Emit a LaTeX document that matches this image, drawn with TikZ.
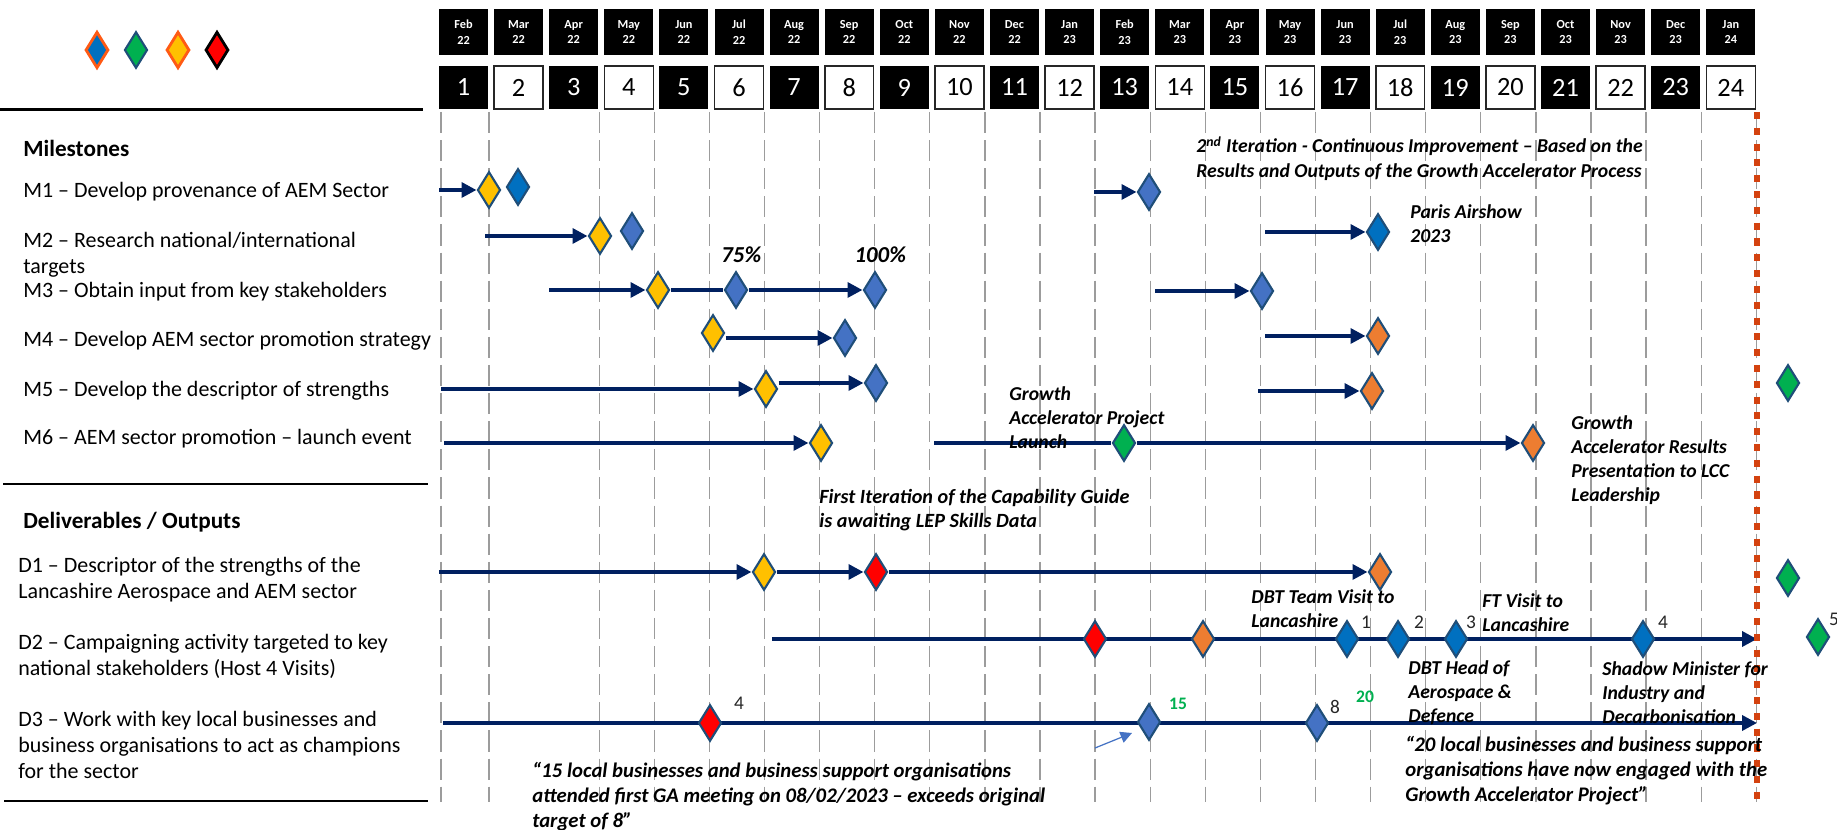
\documentclass[tikz,border=0pt]{standalone}
\usepackage{fontspec}
\setmainfont{Carlito}
\usetikzlibrary{arrows.meta,positioning,shapes.geometric}
\definecolor{navy}{HTML}{002060}
\definecolor{gold}{HTML}{FFC000}
\definecolor{deepblue}{HTML}{0070C0}
\definecolor{softblue}{HTML}{4472C4}
\definecolor{amber}{HTML}{ED7D31}
\definecolor{leaf}{HTML}{00B050}
\definecolor{signal}{HTML}{FF0000}
\definecolor{rim}{HTML}{1F4E79}
\definecolor{flame}{HTML}{FF5A14}
\definecolor{cutoff}{HTML}{D4420F}
\definecolor{grid}{HTML}{9C9C9C}
\definecolor{numgray}{HTML}{262626}

\begin{document}
\begin{tikzpicture}[x=0.02cm,y=-0.02cm,
 ms/.style={diamond,draw=rim,line width=1.2pt,inner sep=0pt,minimum width=.46cm,minimum height=.73cm},
 arr/.style={draw=navy,line width=2pt,-{Triangle[length=8.5pt,width=8.5pt]}},
 bar/.style={draw=navy,line width=2pt},
 monthbox/.style={fill=black,text=white,align=center,minimum width=.98cm,minimum height=.92cm,inner sep=0pt,font=\bfseries\fontsize{7}{9}\selectfont},
 numbox/.style={minimum width=.98cm,minimum height=.86cm,inner sep=0pt,font=\fontsize{15}{15}\selectfont},
 rowtext/.style={anchor=west,align=left,inner sep=0pt,font=\fontsize{12.5}{14.8}\selectfont},
 headtext/.style={anchor=west,inner sep=0pt,font=\bfseries\fontsize{13.2}{15}\selectfont},
 callout/.style={anchor=north west,align=left,inner sep=0pt,font=\bfseries\itshape\fontsize{11.2}{13.7}\selectfont},
 quote/.style={callout,font=\bfseries\itshape\fontsize{11.8}{14.3}\selectfont},
 tally/.style={inner sep=0pt,text=numgray,font=\fontsize{11}{11}\selectfont},
 greentally/.style={inner sep=0pt,text=leaf,font=\bfseries\fontsize{10}{10}\selectfont},
 gridline/.style={draw=grid,line width=.7pt,dash pattern=on 12pt off 4pt},
 sectionline/.style={line width=1.7pt}]
 \fill[white] (0,0) rectangle (1837,830);
 \useasboundingbox (0,0) rectangle (1837,830);

 % month header
 \foreach \mo/\yr [count=\i] in {Feb/22,Mar/22,Apr/22,May/22,Jun/22,Jul/22,Aug/22,Sep/22,Oct/22,Nov/22,Dec/22,Jan/23,Feb/23,Mar/23,Apr/23,May/23,Jun/23,Jul/23,Aug/23,Sep/23,Oct/23,Nov/23,Dec/23,Jan/24} {
  \node[monthbox] (mon\i) at ({463.5+55.1*(\i-1)},32) {\mo\\\yr};
  \ifodd\i
   \node[numbox,fill=black,text=white] (no\i) at ({463.5+55.1*(\i-1)},87.5) {\i};
  \else
   \node[numbox,draw=numgray,line width=.9pt] (no\i) at ({463.5+55.1*(\i-1)},87.5) {\i};
  \fi
 }
 \draw[gridline] (441,112) -- (441,802);
 \foreach \k in {0,2,3,...,23} \draw[gridline] ({489+55.1*\k},112) -- ({489+55.1*\k},802);

 % legend
 \node[ms,draw=flame,line width=1.6pt,fill=deepblue] (leg1) at (97,50) {};
 \node[ms,fill=leaf] (leg2) at (136,50) {};
 \node[ms,draw=flame,line width=1.6pt,fill=gold] (leg3) at (178,50) {};
 \node[ms,draw=black,line width=1.6pt,fill=signal] (leg4) at (217,50) {};

 % left column
 \draw[sectionline] (0,110) -- (423,110);
 \node[headtext] (mhead) at (23,148) {Milestones};
 \node[rowtext] (m1txt) at (23,192) {M1 – Develop provenance of AEM Sector};
 \node[rowtext] (m2txt) at (23,255) {M2 – Research national/international\\targets};
 \node[rowtext] (m3txt) at (23,292) {M3 – Obtain input from key stakeholders};
 \node[rowtext] (m4txt) at (23,341) {M4 – Develop AEM sector promotion strategy};
 \node[rowtext] (m5txt) at (23,391) {M5 – Develop the descriptor of strengths};
 \node[rowtext] (m6txt) at (23,439) {M6 – AEM sector promotion – launch event};
 \draw[sectionline] (3,484) -- (428,484);
 \node[headtext] (dhead) at (23,522) {Deliverables / Outputs};
 \node[rowtext] (d1txt) at (18,580) {D1 – Descriptor of the strengths of the\\Lancashire Aerospace and AEM sector};
 \node[rowtext] (d2txt) at (18,656) {D2 – Campaigning activity targeted to key\\national stakeholders (Host 4 Visits)};
 \node[rowtext] (d3txt) at (18,745) {D3 – Work with key local businesses and\\business organisations to act as champions\\for the sector};
 \draw[sectionline] (4,801) -- (428,801);

 % milestone rows
 \node[ms,fill=gold] (m1a) at (489,190) {};
 \node[ms,fill=deepblue] (m1b) at (518,187) {};
 \node[ms,fill=softblue] (m1c) at (1149,192) {};
 \coordinate (m1s) at (439,190);
 \coordinate (m1t) at (1094,192);
 \draw[arr] (m1s) -- (m1a);
 \draw[arr] (m1t) -- (m1c);

 \node[ms,fill=gold] (m2a) at (600,236) {};
 \node[ms,fill=softblue] (m2b) at (632,231) {};
 \node[ms,fill=deepblue] (m2c) at (1378,232) {};
 \coordinate (m2s) at (485,236);
 \coordinate (m2t) at (1265,232);
 \draw[arr] (m2s) -- (m2a);
 \draw[arr] (m2t) -- (m2c);

 \node[ms,fill=gold] (m3a) at (658,290) {};
 \node[ms,fill=softblue] (m3b) at (736,290) {};
 \node[ms,fill=softblue] (m3c) at (875,290) {};
 \node[ms,fill=softblue] (m3d) at (1262,291) {};
 \coordinate (m3s) at (549,290);
 \coordinate (m3t) at (1155,291);
 \draw[arr] (m3s) -- (m3a);
 \draw[bar] (m3a) -- (m3b);
 \draw[arr] (m3b) -- (m3c);
 \draw[arr] (m3t) -- (m3d);
 \node[font=\bfseries\itshape\fontsize{13}{13}\selectfont,above=1pt of m3b,xshift=3pt] (pct75) {75\%};
 \node[font=\bfseries\itshape\fontsize{13}{13}\selectfont,above=1pt of m3c,xshift=3pt] (pct100) {100\%};

 \node[ms,fill=gold] (m4a) at (713,333) {};
 \node[ms,fill=softblue] (m4b) at (845,338) {};
 \node[ms,fill=amber] (m4c) at (1378,336) {};
 \coordinate (m4t) at (1265,336);
 \draw[arr] (m4a.east |- m4b) -- (m4b);
 \draw[arr] (m4t) -- (m4c);

 \node[ms,fill=gold] (m5a) at (766,389) {};
 \node[ms,fill=softblue] (m5b) at (876,383) {};
 \node[ms,fill=amber] (m5c) at (1372,391) {};
 \node[ms,fill=leaf] (m5d) at (1788,383) {};
 \coordinate (m5s) at (441,389);
 \coordinate (m5t) at (1258,391);
 \draw[arr] (m5s) -- (m5a);
 \draw[arr] (m5a.east |- m5b) -- (m5b);
 \draw[arr] (m5t) -- (m5c);

 \coordinate (m6s) at (444,443);
 \coordinate (m6t) at (934,443);
 \node[ms,fill=gold] (m6a) at (821,443) {};
 \node[ms,fill=leaf] (m6b) at (1124,443) {};
 \node[ms,fill=amber] (m6c) at (1533,443) {};
 \draw[arr] (m6s) -- (m6a);
 \draw[bar] (m6t) -- (m6b);
 \draw[arr] (m6b) -- (m6c);

 % deliverable rows
 \coordinate (d1s) at (439,572);
 \node[ms,fill=gold] (d1a) at (764,572) {};
 \node[ms,fill=signal] (d1b) at (876,572) {};
 \node[ms,fill=amber] (d1c) at (1380,572) {};
 \node[ms,fill=leaf] (d1d) at (1788,578) {};
 \draw[arr] (d1s) -- (d1a);
 \draw[arr] (d1a) -- (d1b);
 \draw[arr] (d1b) -- (d1c);

 \coordinate (d2s) at (772,639);
 \coordinate (d2t) at (1757,639);
 \draw[arr] (d2s) -- (d2t);
 \node[ms,fill=signal] (d2a) at (1095,639) {};
 \node[ms,fill=amber] (d2b) at (1203,639) {};
 \node[ms,fill=deepblue] (d2c) at (1347,639) {};
 \node[ms,fill=deepblue] (d2d) at (1398,639) {};
 \node[ms,fill=deepblue] (d2e) at (1456,639) {};
 \node[ms,fill=deepblue] (d2f) at (1643,639) {};
 \node[ms,fill=leaf] (d2g) at (1818,637) {};

 \coordinate (d3s) at (443,723);
 \coordinate (d3t) at (1757,723);
 \draw[arr] (d3s) -- (d3t);
 \node[ms,fill=signal] (d3a) at (710,723) {};
 \node[ms,fill=softblue] (d3b) at (1149,722) {};
 \node[ms,fill=softblue] (d3c) at (1317,723) {};
 \coordinate (d3p) at (1095,748);
 \draw[softblue,line width=.7pt,-{Triangle[length=6.5pt,width=6.5pt]}] (d3p) -- (1132,733);

 % counts
 \node[tally] (c4a) at (739,703) {4};
 \node[tally] (c1) at (1366,622) {1};
 \node[tally] (c2) at (1419,622) {2};
 \node[tally] (c3) at (1471,622) {3};
 \node[tally] (c4b) at (1663,622) {4};
 \node[tally] (c5) at (1834,619) {5};
 \node[tally] (c8) at (1335,707) {8};
 \node[greentally] (c15) at (1178,704) {15};
 \node[greentally] (c20) at (1365,697) {20};

 % end of period
 \draw[cutoff,line width=3.8pt,dash pattern=on 4pt off 5pt] (1757,112) -- (1757,802);

 % callouts
 \node[callout] (iter2) at (1196,136) {2\textsuperscript{nd} Iteration - Continuous Improvement – Based on the\\Results and Outputs of the Growth Accelerator Process};
 \node[callout] (paris) at (1410,204) {Paris Airshow\\2023};
 \node[callout] (launch) at (1009,386) {Growth\\Accelerator Project\\Launch};
 \node[callout] (results) at (1571,415) {Growth\\Accelerator Results\\Presentation to LCC\\Leadership};
 \node[callout,font=\bfseries\itshape\fontsize{11.5}{13.7}\selectfont] (guide) at (819,489) {First Iteration of the  Capability Guide\\is awaiting LEP Skills Data};
 \node[callout] (dbtteam) at (1251,589) {DBT Team Visit to\\Lancashire};
 \node[callout] (ftvisit) at (1482,593) {FT Visit to\\Lancashire};
 \node[callout] (dbthead) at (1408,660) {DBT Head of\\Aerospace \&\\Defence};
 \node[callout] (shadow) at (1602,661) {Shadow Minister for\\Industry and\\Decarbonisation};
 \node[quote] (quote15) at (532,762) {“15 local businesses and business support organisations\\attended first GA meeting on 08/02/2023 – exceeds original\\target of 8”};
 \node[quote] (quote20) at (1405,736) {“20 local businesses and business support\\organisations have now engaged with the\\Growth Accelerator Project”};
\end{tikzpicture}
\end{document}
